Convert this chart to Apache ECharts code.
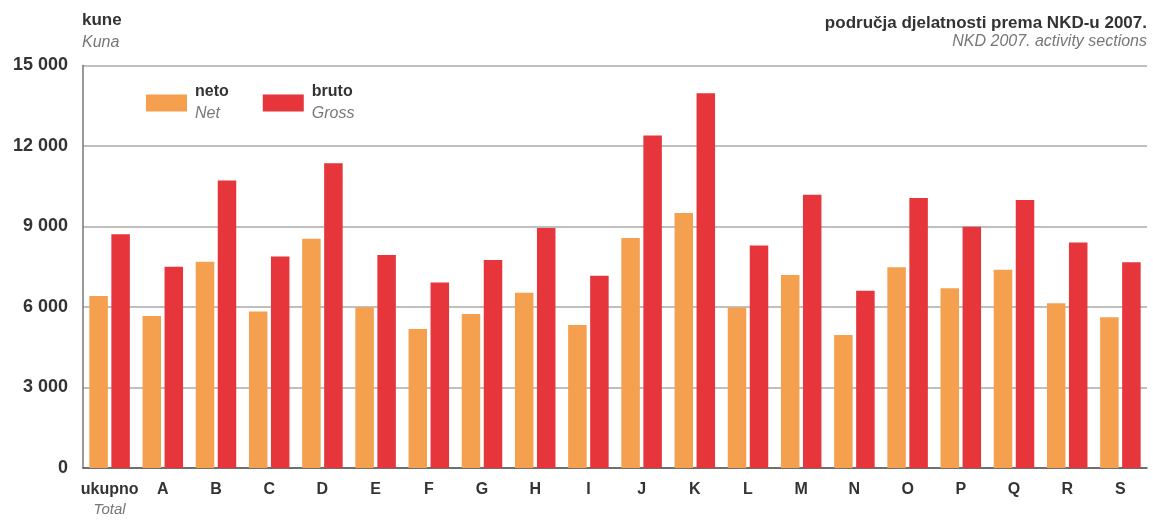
<!DOCTYPE html>
<html><head><meta charset="utf-8">
<script src="https://cdn.jsdelivr.net/npm/echarts@6/dist/echarts.min.js"></script>
<style>html,body{margin:0;padding:0;background:#fff}#c{width:1153px;height:522px}</style>
</head><body><div id="c"></div>
<script>
const categories = ['ukupno','A','B','C','D','E','F','G','H','I','J','K','L','M','N','O','P','Q','R','S'];
const categorySub = {ukupno: 'Total'};
const neto  = [6410,5660,7690,5830,8540,5990,5180,5740,6530,5330,8570,9500,5980,7190,4960,7480,6700,7390,6140,5620];
const bruto = [8710,7500,10710,7880,11360,7940,6910,7750,8940,7160,12390,13970,8290,10180,6610,10060,8990,9990,8400,7670];
const yTicks = [0,3000,6000,9000,12000,15000];

const FONT = '"Liberation Sans",Arial,sans-serif';
const chart = echarts.init(document.getElementById('c'));
chart.setOption({
  animation:false,
  textStyle:{fontFamily:FONT},
  graphic:[
    {type:'text', left:82, top:12, style:{text:'kune', font:'bold 17px '+FONT, fill:'#333'}},
    {type:'text', left:82, top:35, style:{text:'Kuna', font:'italic 16px '+FONT, fill:'#777'}},
    {type:'text', right:6, top:15, style:{text:'područja djelatnosti prema NKD-u 2007.', font:'bold 17px '+FONT, fill:'#333'}},
    {type:'text', right:6, top:34, style:{text:'NKD 2007. activity sections', font:'italic 16px '+FONT, fill:'#777'}}
  ],
  legend:{
    left:141, top:79, itemWidth:41, itemHeight:17, itemGap:34,
    icon:'rect',
    data:['neto','bruto'],
    formatter:function(n){return '{a|'+n+'}\n{b|'+(n==='neto'?'Net':'Gross')+'}';},
    textStyle:{rich:{
      a:{fontFamily:FONT,fontSize:16,fontWeight:'bold',color:'#333',lineHeight:22,padding:[0,0,0,3]},
      b:{fontFamily:FONT,fontSize:16,fontStyle:'italic',color:'#777',lineHeight:22,padding:[0,0,0,3]}
    }}
  },
  grid:{left:83,right:6,top:65.5,bottom:54,containLabel:false},
  xAxis:{
    type:'category', data:categories,
    axisLine:{lineStyle:{color:'#555',width:1.5}},
    axisTick:{show:false},
    axisLabel:{margin:12, interval:0,
      formatter:function(v){return categorySub[v]?'{a|'+v+'}\n{b|'+categorySub[v]+'}':'{a|'+v+'}';},
      rich:{
        a:{fontFamily:FONT,fontSize:16,fontWeight:'bold',color:'#333',lineHeight:20},
        b:{fontFamily:FONT,fontSize:15,fontStyle:'italic',color:'#777',lineHeight:20}
      }}
  },
  yAxis:{
    type:'value', min:yTicks[0], max:yTicks[yTicks.length-1], interval:3000,
    axisLine:{show:true,lineStyle:{color:'#777',width:1.5}},
    axisTick:{show:false},
    splitLine:{lineStyle:{color:'#aaa',width:1.5}},
    axisLabel:{margin:15,fontFamily:FONT,fontSize:18,fontWeight:'bold',color:'#333',
      formatter:function(v){return String(v).replace(/\B(?=(\d{3})+(?!\d))/g,' ');}}
  },
  series:[
    {name:'neto',type:'bar',data:neto,barWidth:18.5,barGap:'19%',itemStyle:{color:'#F5A04F'}},
    {name:'bruto',type:'bar',data:bruto,barWidth:18.5,itemStyle:{color:'#E6353B'}}
  ]
});
</script></body></html>
